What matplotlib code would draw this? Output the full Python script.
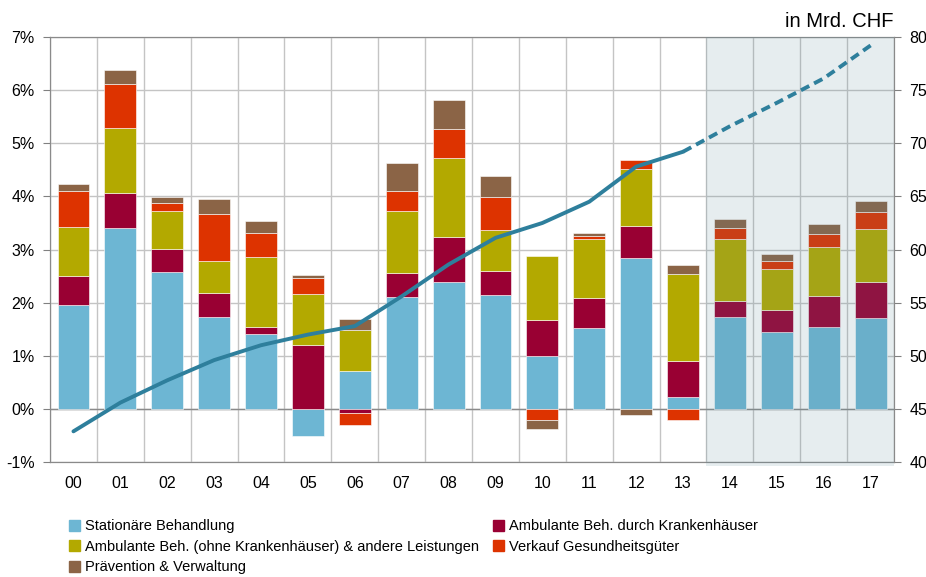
import numpy as np
import matplotlib
matplotlib.use('Agg')
import matplotlib.pyplot as plt
from matplotlib.patches import Patch

plt.rcParams['font.family'] = ['Liberation Sans', 'DejaVu Sans']

years = ['00', '01', '02', '03', '04', '05', '06', '07', '08', '09',
         '10', '11', '12', '13', '14', '15', '16', '17']

# contributions to growth in percentage points
stationaer = [1.96, 3.40, 2.57, 1.74, 1.42, -0.50, 0.72, 2.10, 2.39, 2.15,
              0.99, 1.53, 2.84, 0.23, 1.74, 1.45, 1.55, 1.72]
amb_kh = [0.54, 0.66, 0.44, 0.45, 0.13, 1.20, -0.08, 0.45, 0.85, 0.45,
          0.69, 0.55, 0.61, 0.67, 0.30, 0.42, 0.58, 0.67]
amb_andere = [0.93, 1.23, 0.72, 0.60, 1.31, 0.97, 0.77, 1.18, 1.49, 0.77,
              1.20, 1.12, 1.07, 1.64, 1.15, 0.77, 0.91, 1.00]
verkauf = [0.67, 0.83, 0.15, 0.87, 0.45, 0.30, -0.22, 0.37, 0.54, 0.62,
           -0.20, 0.06, 0.17, -0.20, 0.21, 0.15, 0.26, 0.32]
praevention = [0.13, 0.25, 0.11, 0.29, 0.22, 0.06, 0.21, 0.53, 0.54, 0.39,
               -0.17, 0.05, -0.11, 0.17, 0.17, 0.12, 0.18, 0.21]

# total expenditure, bn CHF (right axis)
ausgaben = [42.9, 45.6, 47.7, 49.6, 51.0, 52.0, 52.8, 55.6, 58.6, 61.1,
            62.5, 64.5, 67.8, 69.2, 71.6, 73.8, 76.1, 79.2]

series = [
    ('Stationäre Behandlung', stationaer, '#6db6d3'),
    ('Ambulante Beh. durch Krankenhäuser', amb_kh, '#990033'),
    ('Ambulante Beh. (ohne Krankenhäuser) & andere Leistungen', amb_andere, '#b3a900'),
    ('Verkauf Gesundheitsgüter', verkauf, '#dd3300'),
    ('Prävention & Verwaltung', praevention, '#8b6446'),
]

fig = plt.figure(figsize=(9.26, 5.77), dpi=100)
ax = fig.add_axes([0.054, 0.199, 0.9115, 0.737])
ax2 = ax.twinx()

x = np.arange(len(years))
pos_bottom = np.zeros(len(years))
neg_bottom = np.zeros(len(years))
for name, vals, col in series:
    v = np.array(vals)
    bottom = np.where(v >= 0, pos_bottom, neg_bottom)
    ax.bar(x, v, width=0.68, bottom=bottom, color=col, edgecolor='white',
           linewidth=0.4, zorder=3)
    pos_bottom += np.where(v >= 0, v, 0)
    neg_bottom += np.where(v < 0, v, 0)

# forecast shading
ax.axvspan(13.5, 17.5, ymin=-0.01, ymax=1, color='#5a8a9a', alpha=0.15,
           zorder=4, lw=0, clip_on=False)

ax.set_xlim(-0.5, 17.5)
ax.set_ylim(-1, 7)
ax.set_yticks(range(-1, 8))
ax.set_yticklabels([f'{i}%' for i in range(-1, 8)])
ax.set_xticks(x)
ax.set_xticklabels(years)
ax.set_xticks(np.arange(-0.5, 18, 1), minor=True)
ax.grid(True, which='minor', axis='x', color='#c4c4c4', lw=1, zorder=0)
ax.grid(True, which='major', axis='y', color='#c4c4c4', lw=1, zorder=0)
ax.axhline(0, color='#8a8a8a', lw=1, zorder=2)
ax.tick_params(axis='x', which='both', length=0, pad=10, labelsize=11.5)
ax.tick_params(axis='y', length=5, color='#808080', labelsize=11.5, pad=6)

ax2.set_ylim(40, 80)
ax2.set_yticks(range(40, 81, 5))
ax2.tick_params(axis='y', length=5, color='#808080', labelsize=11.5, pad=6)

for a in (ax, ax2):
    for s in a.spines.values():
        s.set_color('#8a8a8a')
ax.set_zorder(ax2.get_zorder() + 1)
ax.patch.set_visible(False)

# line drawn on ax (right-axis values mapped: 45 CHF = 0 %, 5 CHF per 1 %)
line_vals = (np.array(ausgaben) - 45) / 5.0
ax.plot(x[:14], line_vals[:14], color='#2e7f9c', lw=2.8, zorder=6,
        solid_capstyle='round')
ax.plot(x[13:], line_vals[13:], color='#2e7f9c', lw=2.8, zorder=6,
        linestyle=(0, (2.4, 1.4)))

fig.text(0.965, 0.962, 'in Mrd. CHF', ha='right', va='center', fontsize=14.5)

handles = [Patch(color=c) for _, _, c in series]
labels = [n for n, _, _ in series]
order = [0, 2, 4, 1, 3]
fig.legend([handles[i] for i in order], [labels[i] for i in order],
           loc='upper left', bbox_to_anchor=(0.075, 0.1), ncol=2,
           frameon=False, fontsize=10.5, handlelength=0.75, handleheight=0.75,
           handletextpad=0.3, columnspacing=1.0, labelspacing=0.45,
           borderaxespad=0, borderpad=0)

fig.savefig('out.png', dpi=100)
